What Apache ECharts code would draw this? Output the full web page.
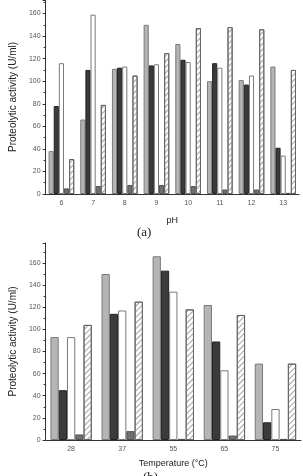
<!DOCTYPE html>
<html>
<head>
<meta charset="utf-8">
<script src="https://cdn.jsdelivr.net/npm/echarts@6/dist/echarts.min.js"></script>
<style>
	html, body { margin: 0; padding: 0; background: #fff; }
	#activity { width: 303px; height: 476px; }
</style>
</head>
<body>
<div id="activity"></div>
<script>
	// (a) pH
	var phCats = ['6', '7', '8', '9', '10', '11', '12', '13'];
	var phGray = [38, 66, 111, 150, 133, 100, 101, 113];
	var phBlack = [78, 110, 112, 114, 119, 116, 97, 41];
	var phWhite = [116, 159, 113, 115, 117, 112, 105, 34];
	var phSmall = [5, 7, 8, 8, 7, 4, 4, 1];
	var phHatch = [31, 79, 105, 125, 147, 148, 146, 110];

	// (b) temperature
	var tempCats = ['28', '37', '55', '65', '75'];
	var tGray = [93, 150, 166, 122, 69];
	var tBlack = [45, 114, 153, 89, 16];
	var tWhite = [93, 117, 134, 63, 28];
	var tSmall = [5, 8, 1, 4, 1];
	var tHatch = [104, 125, 118, 113, 69];

	var font = 'Liberation Sans, Arial, sans-serif';

	var styles = [
		{ color: '#b5b5b5', borderColor: '#7a7a7a' },
		{ color: '#3b3b3b', borderColor: '#222' },
		{ color: '#ffffff', borderColor: '#7a7a7a' },
		{ color: '#707070', borderColor: '#505050' },
		{
			color: '#ffffff', borderColor: '#666',
			decal: {
				symbol: 'rect', symbolSize: 1,
				dashArrayX: [1, 0], dashArrayY: [1, 2.6],
				rotation: -Math.PI / 4, color: '#a0a0a0'
			}
		}
	];

	function makeSeries(idx, lists) {
		return lists.map(function(d, i) {
			var st = Object.assign({ borderWidth: 1 }, styles[i]);
			return {
				type: 'bar',
				xAxisIndex: idx,
				yAxisIndex: idx,
				barGap: '0%',
				barCategoryGap: '19%',
				itemStyle: st,
				data: d
			};
		});
	}

	function xAxis(idx, cats, name, gap) {
		return {
			type: 'category',
			gridIndex: idx,
			data: cats,
			name: name,
			nameLocation: 'middle',
			nameGap: gap,
			nameTextStyle: { fontFamily: font, fontSize: 9, color: '#222' },
			axisLine: { lineStyle: { color: '#333', width: 1 } },
			axisTick: { alignWithLabel: true, length: 3, lineStyle: { color: '#333' } },
			axisLabel: { fontFamily: font, fontSize: 7, color: '#555', margin: 6 }
		};
	}

	function yAxis(idx, max) {
		return {
			type: 'value',
			gridIndex: idx,
			min: 0,
			max: max,
			interval: 20,
			name: 'Proteolytic activity (U/ml)',
			nameLocation: 'middle',
			nameGap: 25,
			nameTextStyle: { fontFamily: font, fontSize: 10, color: '#222' },
			axisLine: { show: true, lineStyle: { color: '#333', width: 1 } },
			axisTick: { show: true, length: 3, lineStyle: { color: '#333' } },
			minorTick: { show: true, splitNumber: 2, length: 2, lineStyle: { color: '#333' } },
			splitLine: { show: false },
			axisLabel: { fontFamily: font, fontSize: 7, color: '#555', margin: 5, showMaxLabel: false }
		};
	}

	var chart = echarts.init(document.getElementById('activity'));
	var option = {
		animation: false,
		grid: [
			{ left: 37, right: 4, top: 0, bottom: 282 },
			{ left: 37, right: 2, top: 243, bottom: 36 }
		],
		xAxis: [
			xAxis(0, phCats, 'pH', 22),
			xAxis(1, tempCats, 'Temperature (°C)', 19)
		],
		yAxis: [
			yAxis(0, 172),
			yAxis(1, 178)
		],
		series: makeSeries(0, [phGray, phBlack, phWhite, phSmall, phHatch])
			.concat(makeSeries(1, [tGray, tBlack, tWhite, tSmall, tHatch])),
		graphic: [
			{
				type: 'text', left: 137, top: 226,
				style: { text: '(a)', font: '13px Liberation Serif, serif', fill: '#222' }
			},
			{
				type: 'text', left: 143, top: 471,
				style: { text: '(b)', font: '13px Liberation Serif, serif', fill: '#222' }
			}
		]
	};
	chart.setOption(option);
</script>
</body>
</html>
